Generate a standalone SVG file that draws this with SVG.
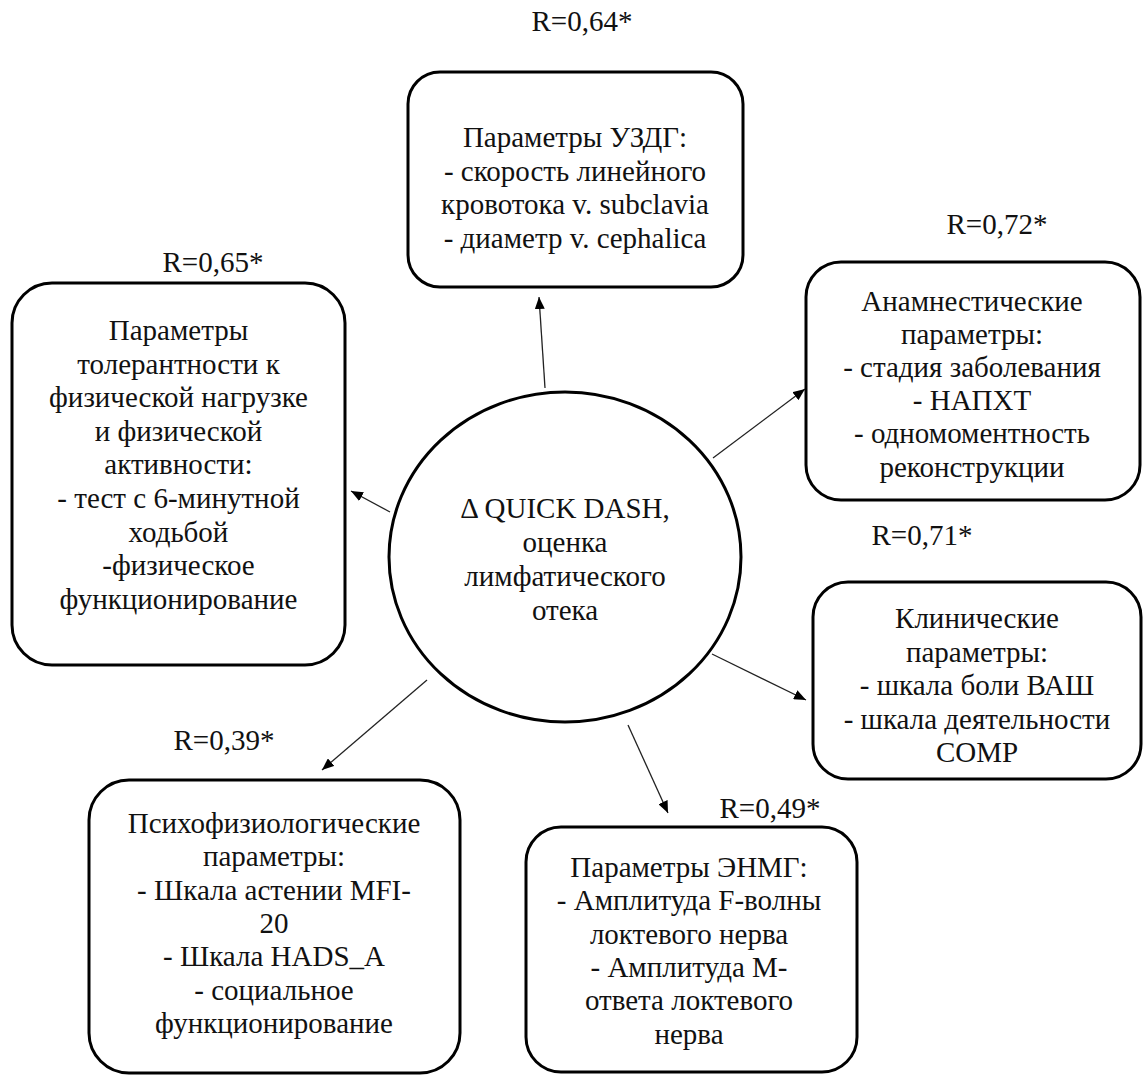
<svg xmlns="http://www.w3.org/2000/svg" width="1143" height="1076" viewBox="0 0 1143 1076">
<style>
.t text{font-size:29px;fill:#111;text-anchor:middle}
.box{fill:#fff;stroke:#000;stroke-width:3}
.conn line{stroke:#222;stroke-width:1.3}
</style>
<defs>
<marker id="ah" viewBox="0 0 12 10" refX="12" refY="5" markerWidth="12" markerHeight="10" markerUnits="userSpaceOnUse" orient="auto">
<path d="M0,0 L12,5 L0,10 Z" fill="#000"/>
</marker>
<clipPath id="clipA"><rect x="806" y="262" width="334" height="225"/></clipPath>
</defs>
<rect width="1143" height="1076" fill="#fff"/>
<g class="t" font-family="Liberation Serif, Times New Roman, DejaVu Serif, serif">
<g id="labels">
<text x="582" y="31">R=0,64*</text>
<text x="213" y="272">R=0,65*</text>
<text x="997" y="234">R=0,72*</text>
<text x="922" y="545">R=0,71*</text>
<text x="224" y="750">R=0,39*</text>
<text x="770" y="818">R=0,49*</text>
</g>

<g id="node-center">
<ellipse class="box" cx="565" cy="557" rx="176" ry="165"/>
<text x="565" y="518">Δ QUICK DASH,</text>
<text x="565" y="552">оценка</text>
<text x="565" y="586">лимфатического</text>
<text x="565" y="620">отека</text>
</g>

<g id="node-uzdg">
<rect class="box" x="408" y="72" width="335" height="215" rx="32"/>
<text x="575" y="147">Параметры УЗДГ:</text>
<text x="575" y="180.5">- скорость линейного</text>
<text x="575" y="214">кровотока v. subclavia</text>
<text x="575" y="247.5">- диаметр v. cephalica</text>
</g>

<g id="node-tolerance">
<rect class="box" x="12" y="283" width="333" height="382" rx="40"/>
<text x="178.5" y="340">Параметры</text>
<text x="178.5" y="373.6">толерантности к</text>
<text x="178.5" y="407.2">физической нагрузке</text>
<text x="178.5" y="440.8">и физической</text>
<text x="178.5" y="474.4">активности:</text>
<text x="178.5" y="508">- тест с 6-минутной</text>
<text x="178.5" y="541.6">ходьбой</text>
<text x="178.5" y="575.2">-физическое</text>
<text x="178.5" y="608.8">функционирование</text>
</g>

<g id="node-anamnesis">
<rect class="box" x="806" y="262" width="334" height="238" rx="35"/>
<g clip-path="url(#clipA)">
<text x="972" y="311">Анамнестические</text>
<text x="972" y="344">параметры:</text>
<text x="972" y="377">- стадия заболевания</text>
<text x="972" y="410">- НАПХТ</text>
<text x="972" y="443">- одномоментность</text>
<text x="972" y="477">реконструкции</text>
</g>
</g>

<g id="node-clinical">
<rect class="box" x="813" y="582" width="328" height="197" rx="35"/>
<text x="977" y="628">Клинические</text>
<text x="977" y="661.5">параметры:</text>
<text x="977" y="695">- шкала боли ВАШ</text>
<text x="977" y="728.5">- шкала деятельности</text>
<text x="977" y="762">COMP</text>
</g>

<g id="node-psycho">
<rect class="box" x="89" y="780" width="371" height="293" rx="40"/>
<text x="274" y="833">Психофизиологические</text>
<text x="274" y="866.3">параметры:</text>
<text x="274" y="899.6">- Шкала астении MFI-</text>
<text x="274" y="932.9">20</text>
<text x="274" y="966.2">- Шкала HADS_A</text>
<text x="274" y="999.5">- социальное</text>
<text x="274" y="1032.8">функционирование</text>
</g>

<g id="node-enmg">
<rect class="box" x="526" y="827" width="331" height="245" rx="35"/>
<text x="689" y="877">Параметры ЭНМГ:</text>
<text x="689" y="910.3">- Амплитуда F-волны</text>
<text x="689" y="943.6">локтевого нерва</text>
<text x="689" y="976.9">- Амплитуда М-</text>
<text x="689" y="1010.2">ответа локтевого</text>
<text x="689" y="1043.5">нерва</text>
</g>
</g>
<g id="connectors" class="conn">
<line x1="545" y1="388" x2="539" y2="297" marker-end="url(#ah)"/>
<line x1="713" y1="458" x2="805" y2="389" marker-end="url(#ah)"/>
<line x1="712" y1="654" x2="806" y2="700" marker-end="url(#ah)"/>
<line x1="628" y1="725" x2="668" y2="813" marker-end="url(#ah)"/>
<line x1="427" y1="680" x2="322" y2="770" marker-end="url(#ah)"/>
<line x1="390" y1="512" x2="351" y2="491" marker-end="url(#ah)"/>
</g>
</svg>
